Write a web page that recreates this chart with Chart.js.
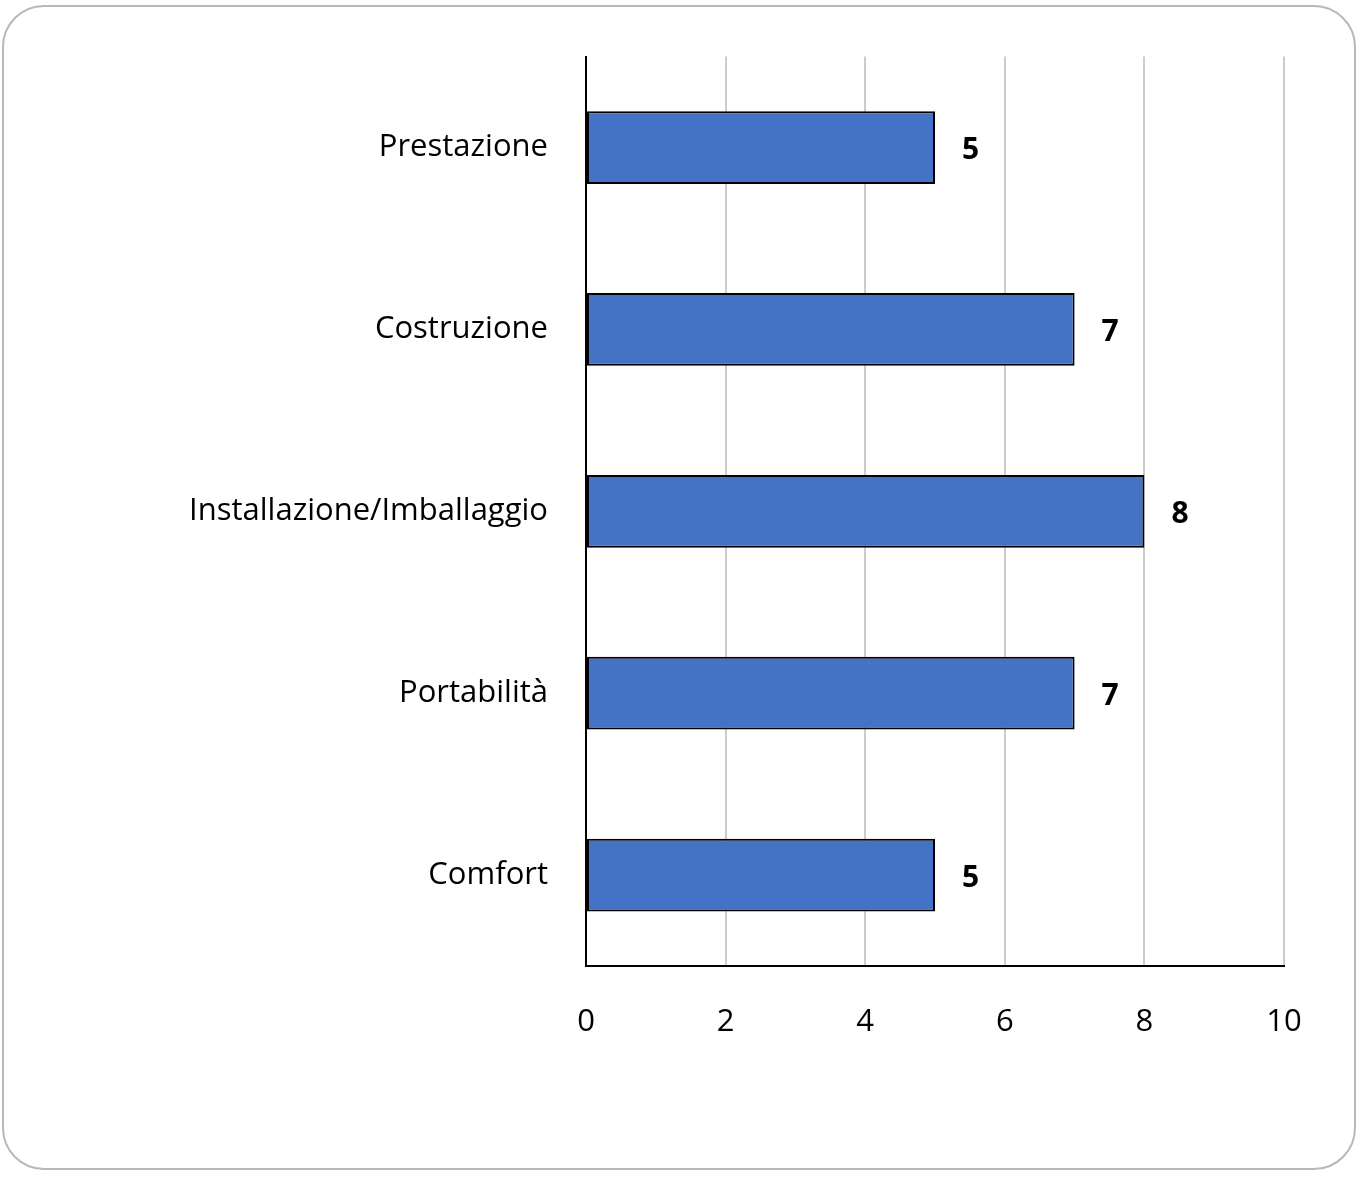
<!DOCTYPE html>
<html>
<head>
<meta charset="utf-8">
<script src="https://cdn.jsdelivr.net/npm/chart.js@4"></script>
<style>
  body { margin: 0; background: #fff; }
  #frame { position: absolute; left: 2px; top: 5px; width: 1350px; height: 1161px;
           border: 2px solid #b8b8b8; border-radius: 42px; }
  #wrap { position: absolute; left: 0; top: 0; width: 1361px; height: 1177px; }
</style>
</head>
<body>
<div id="frame"></div>
<div id="wrap"><canvas id="chart"></canvas></div>
<script>
const categories = ['Prestazione', 'Costruzione', 'Installazione/Imballaggio', 'Portabilità', 'Comfort'];
const scores = [5, 7, 8, 7, 5];
const xTicks = [0, 2, 4, 6, 8, 10];

// values written to the right of each bar
const barLabels = {
    id: 'barLabels',
    afterDatasetsDraw(chart) {
        const ctx = chart.ctx;
        const meta = chart.getDatasetMeta(0);
        ctx.save();
        ctx.font = 'bold 30px "Open Sans", sans-serif';
        ctx.fillStyle = '#000';
        ctx.textAlign = 'left';
        ctx.textBaseline = 'middle';
        meta.data.forEach((bar, i) => {
            ctx.fillText(scores[i], bar.x + 27, bar.y + 3);
        });
        ctx.restore();
    }
};

new Chart(document.getElementById('chart'), {
    type: 'bar',
    data: {
        labels: categories,
        datasets: [{
            data: scores,
            backgroundColor: '#4472c4',
            borderColor: '#000',
            borderWidth: 2,
            borderSkipped: false,
            categoryPercentage: 1,
            barPercentage: 0.4
        }]
    },
    options: {
        indexAxis: 'y',
        responsive: true,
        maintainAspectRatio: false,
        animation: false,
        layout: { padding: { top: 55, right: 77, left: 0, bottom: 0 } },
        plugins: { legend: { display: false }, tooltip: { enabled: false } },
        scales: {
            x: {
                min: 0, max: 10,
                afterBuildTicks: s => { s.ticks = xTicks.map(v => ({ value: v })); },
                afterFit: s => { s.height = 211; },
                grid: { color: '#cccccc', lineWidth: 2, drawTicks: false },
                border: { color: '#000', width: 2 },
                ticks: { padding: 38, color: '#000', font: { size: 31, family: '"Open Sans", sans-serif' } }
            },
            y: {
                afterFit: s => { s.width = 586; },
                grid: { display: false, drawTicks: false },
                border: { color: '#000', width: 2 },
                ticks: { padding: 38, color: '#000', font: { size: 31, family: '"Open Sans", sans-serif' } }
            }
        }
    },
    plugins: [barLabels]
});
</script>
</body>
</html>
